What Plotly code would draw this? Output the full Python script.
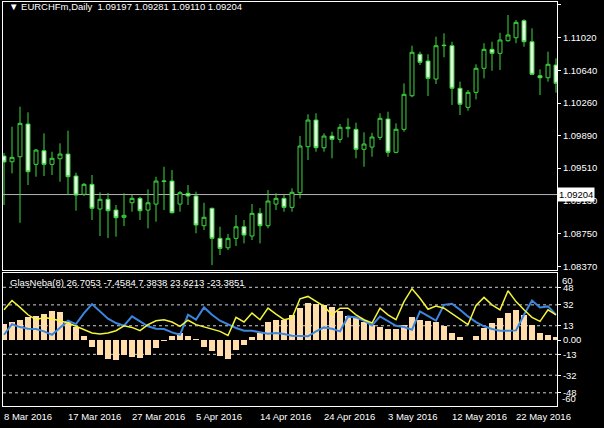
import plotly.graph_objects as go

# ---------------- data ----------------
date_labels = ["8 Mar 2016", "17 Mar 2016", "27 Mar 2016", "5 Apr 2016", "14 Apr 2016",
               "24 Apr 2016", "3 May 2016", "12 May 2016", "22 May 2016"]
date_label_bars = [0, 8, 16, 24, 32, 40, 48, 56, 64]

opens = [1.09649, 1.09583, 1.09641, 1.10019, 1.09553, 1.09710, 1.09553, 1.09618, 1.09672, 1.09418,
         1.09207, 1.09322, 1.09037, 1.09149, 1.09025, 1.08941, 1.09109, 1.09160, 1.09025, 1.09094,
         1.09354, 1.09360, 1.09094, 1.09218, 1.09187, 1.08844, 1.09045, 1.08698, 1.08589, 1.08698,
         1.08832, 1.08725, 1.08987, 1.08844, 1.09094, 1.09160, 1.09056, 1.09225, 1.09757, 1.10065,
         1.09745, 1.09880, 1.09842, 1.09965, 1.09958, 1.09727, 1.09753, 1.09865, 1.10077, 1.09692,
         1.09958, 1.10346, 1.10825, 1.10747, 1.10539, 1.10924, 1.10924, 1.10432, 1.10212, 1.10385,
         1.10663, 1.10882, 1.10836, 1.10982, 1.11016, 1.11213, 1.10970, 1.10577, 1.10554, 1.10701]
highs = [1.09684, 1.09988, 1.10219, 1.10154, 1.09730, 1.09911, 1.09699, 1.09796, 1.09942, 1.09456,
         1.09337, 1.09430, 1.09230, 1.09222, 1.09083, 1.09218, 1.09198, 1.09179, 1.09264, 1.09410,
         1.09525, 1.09487, 1.09245, 1.09314, 1.09237, 1.09109, 1.09052, 1.08832, 1.08748, 1.08967,
         1.08910, 1.09094, 1.09048, 1.09256, 1.09218, 1.09198, 1.09276, 1.09880, 1.10131, 1.10143,
         1.09911, 1.09930, 1.10019, 1.10085, 1.10034, 1.09923, 1.09918, 1.10143, 1.10161, 1.10027,
         1.10489, 1.10924, 1.10855, 1.10825, 1.11028, 1.11067, 1.10970, 1.10508, 1.10412, 1.10709,
         1.10952, 1.10970, 1.11074, 1.11279, 1.11221, 1.11229, 1.11125, 1.10651, 1.10855, 1.10778]
lows = [1.09083, 1.09449, 1.08878, 1.09314, 1.09410, 1.09418, 1.09430, 1.09352, 1.09198, 1.09017,
        1.09187, 1.08910, 1.08725, 1.08701, 1.08717, 1.08840, 1.09005, 1.08910, 1.08814, 1.08890,
        1.09025, 1.08987, 1.09005, 1.09083, 1.08756, 1.08794, 1.08389, 1.08505, 1.08563, 1.08609,
        1.08640, 1.08678, 1.08640, 1.08814, 1.09025, 1.09005, 1.09005, 1.09160, 1.09603, 1.09699,
        1.09699, 1.09623, 1.09803, 1.09865, 1.09623, 1.09526, 1.09641, 1.09834, 1.09641, 1.09680,
        1.09930, 1.10328, 1.10701, 1.10343, 1.10481, 1.10790, 1.10239, 1.10123, 1.10173, 1.10304,
        1.10547, 1.10635, 1.10643, 1.10970, 1.10952, 1.10912, 1.10585, 1.10354, 1.10508, 1.10381]
closes = [1.09580, 1.09634, 1.10027, 1.09468, 1.09718, 1.09553, 1.09623, 1.09672, 1.09410, 1.09198,
          1.09322, 1.09045, 1.09149, 1.09017, 1.08936, 1.08964, 1.09160, 1.09017, 1.09109, 1.09360,
          1.09360, 1.08994, 1.09225, 1.09187, 1.08852, 1.08941, 1.08698, 1.08582, 1.08698, 1.08832,
          1.08736, 1.08987, 1.08844, 1.09129, 1.09160, 1.09056, 1.09230, 1.09765, 1.10065, 1.09745,
          1.09880, 1.09842, 1.09981, 1.09981, 1.09727, 1.09788, 1.09869, 1.10085, 1.09692, 1.09958,
          1.10362, 1.10848, 1.10732, 1.10547, 1.10924, 1.10929, 1.10432, 1.10247, 1.10385, 1.10663,
          1.10882, 1.10836, 1.10990, 1.11048, 1.11194, 1.10970, 1.10593, 1.10554, 1.10709, 1.10489]

hist_values = [14.5, 16, 18.5, 20.6, 21.5, 23.6, 26.7, 25.2, 17, 11.5,
               3.4, -6.4, -14, -17, -18.5, -14, -15, -16, -14, -7.3,
               -1.2, 3.4, 6.4, 3.4, 1, -6.4, -10.3, -14.2, -17, -9.4,
               -4.2, 2.7, 6.4, 16, 18.5, 18.5, 23, 29, 33.6, 33,
               31.5, 30, 26, 22, 20, 16, 13.3, 11.5, 10, 10,
               14, 20.6, 18.5, 17, 16.4, 12.4, 6.4, 2.7, 0.3, 3.4,
               11, 15.5, 20, 24.5, 27.5, 22.4, 13.3, 6.4, 4.8, 2.7]
yellow_values = [27.5, 36, 29.7, 23, 18.5, 20.6, 19.4, 17.6, 15.5, 12.5,
                 9.4, 6.4, 5.5, 6.4, 8.5, 13, 11.5, 8.5, 14, 17.6,
                 18.5, 16.4, 12.5, 18, 14, 11.8, 9.4, 7.9, 4.2, 20.6,
                 16.4, 24.5, 18.5, 29, 23.6, 18.5, 20, 37.5, 39.7, 35,
                 30.6, 23, 29, 29, 23, 18.5, 15.5, 29, 23, 18.5,
                 35, 46.7, 38, 28, 31, 29, 24, 18.5, 14, 31.5,
                 38.8, 32, 27.5, 44.8, 35, 27.5, 20.6, 17, 27.5, 23]
blue_values = [4.8, 14.5, 11.8, 10.3, 10, 7.9, 4.8, 11, 17.6, 14.5,
               24.5, 32.7, 26, 19.4, 15.5, 13, 21.5, 17, 12.5, 10.3,
               10, 7, 4.8, 23, 18.5, 29.7, 23, 17.6, 14, 11,
               8.5, 8.5, 7, 5.8, 6.4, 5.5, 3.9, 3.4, 3.4, 7.9,
               11.5, 10.3, 7.9, 21.5, 20.6, 17.6, 13.3, 21.5, 17, 13,
               11.8, 9.4, 26, 21.5, 17.6, 32, 33, 27.5, 21.5, 16.4,
               12.5, 10, 8.5, 8.5, 8.8, 23, 36, 29.7, 30.6, 23]

price_ticks = [1.11400, 1.11020, 1.10640, 1.10260, 1.09890, 1.09510, 1.09130, 1.08750, 1.08370]
ind_ticks = [48, 32, 13, 0, -13, -32, -48]
ind_tick_text = ["48", "32", "13", "0.00", "-13", "-32", "-48"]
ind_levels = [48, 32, 13, -13, -32, -48]
current_price = 1.09204
header_text = "EURCHFm,Daily  1.09197 1.09281 1.09110 1.09204"
ind_header = "GlasNeba(8) 26.7053 -7.4584 7.3838 23.6213 -23.3851"

bars = list(range(len(opens)))

# ---------------- styling ----------------
FONT = "Liberation Sans, Arial, sans-serif"
FS = 9.5
GREEN = "#3cd83c"
DOWN_FILL = "#e6ffe6"
WHITE = "#ffffff"

fig = go.Figure()

fig.add_trace(go.Candlestick(
    x=bars, open=opens, high=highs, low=lows, close=closes,
    increasing=dict(line=dict(color=GREEN, width=1), fillcolor="#000000"),
    decreasing=dict(line=dict(color=GREEN, width=1), fillcolor=DOWN_FILL),
    whiskerwidth=0, xaxis="x", yaxis="y", showlegend=False, hoverinfo="skip"))

fig.add_trace(go.Bar(x=bars, y=hist_values, marker=dict(color="#ffdcaa", line=dict(width=0)),
                     width=0.72, xaxis="x2", yaxis="y2", showlegend=False, hoverinfo="skip"))
fig.add_trace(go.Scatter(x=bars, y=blue_values, mode="lines", hoverinfo="skip",
                         line=dict(color="#3a86e0", width=2), xaxis="x2", yaxis="y2", showlegend=False))
fig.add_trace(go.Scatter(x=bars, y=yellow_values, mode="lines", hoverinfo="skip",
                         line=dict(color="#f4f43c", width=1.5), xaxis="x2", yaxis="y2", showlegend=False))

xr = [-0.125, 69.125]
main_dom = [0.3366, 1.0]
ind_dom = [0.0, 0.3292]

shapes = []
shapes.append(dict(type="line", xref="x domain", yref="y", x0=0, x1=1, y0=current_price, y1=current_price,
                   line=dict(color="#b4b4b4", width=1), layer="below"))
for lv in ind_levels:
    shapes.append(dict(type="line", xref="x2 domain", yref="y2", x0=0, x1=1, y0=lv, y1=lv,
                       line=dict(color="#cfcfcf", width=1, dash="3px,3px"), layer="below"))

annotations = []
annotations.append(dict(xref="paper", yref="paper", x=0.008, y=0.99, xanchor="left", yanchor="middle",
                        text="▼ " + header_text, showarrow=False,
                        font=dict(family=FONT, size=FS, color=WHITE)))
annotations.append(dict(xref="paper", yref="paper", x=0.009, y=ind_dom[1] - 0.024, xanchor="left", yanchor="middle",
                        text=ind_header, showarrow=False,
                        font=dict(family=FONT, size=FS, color=WHITE)))
annotations.append(dict(xref="paper", yref="y", x=1.0, y=current_price, xanchor="left", yanchor="middle",
                        text="1.09204", showarrow=False, bgcolor=WHITE, borderpad=1,
                        font=dict(family=FONT, size=FS, color="#000000")))
annotations.append(dict(xref="paper", yref="y2", x=1.0, y=61, xanchor="left", yanchor="top", xshift=3,
                        text="60", showarrow=False, font=dict(family=FONT, size=FS, color=WHITE)))
annotations.append(dict(xref="paper", yref="y2", x=1.0, y=-60, xanchor="left", yanchor="bottom", xshift=3,
                        text="-60", showarrow=False, font=dict(family=FONT, size=FS, color=WHITE)))
for lbl, b in zip(date_labels, date_label_bars):
    annotations.append(dict(xref="x2", yref="paper", x=b, y=0, xanchor="left", yanchor="top",
                            xshift=-2, yshift=-3, text=lbl, showarrow=False,
                            font=dict(family=FONT, size=FS, color=WHITE)))

axis_common = dict(showgrid=False, zeroline=False, showline=True, linecolor=WHITE, linewidth=1, mirror=True)

fig.update_layout(
    width=604, height=428,
    margin=dict(l=3, r=47, t=2, b=22),
    paper_bgcolor="#000000", plot_bgcolor="#000000",
    showlegend=False, bargap=0, hovermode=False,
    xaxis=dict(domain=[0, 1], range=xr, anchor="y", showticklabels=False, ticks="",
               rangeslider=dict(visible=False), **axis_common),
    yaxis=dict(domain=main_dom, range=[1.08332, 1.11429], side="right", anchor="x",
               tickvals=price_ticks, ticktext=["%.5f" % p for p in price_ticks],
               ticks="outside", ticklen=3, tickcolor=WHITE, ticklabelstandoff=0,
               tickfont=dict(family=FONT, size=FS, color=WHITE), **axis_common),
    xaxis2=dict(domain=[0, 1], range=xr, anchor="y2", showticklabels=False, ticks="",
                **axis_common),
    yaxis2=dict(domain=ind_dom, range=[-60, 61], side="right", anchor="x2",
                tickvals=ind_ticks, ticktext=ind_tick_text,
                ticks="outside", ticklen=3, tickcolor=WHITE, ticklabelstandoff=0,
                tickfont=dict(family=FONT, size=FS, color=WHITE), **axis_common),
    shapes=shapes, annotations=annotations,
)

fig.write_html("out.html", config={"displayModeBar": False, "staticPlot": True},
               post_script="document.body.style.margin='0px';document.body.style.padding='0px';")
